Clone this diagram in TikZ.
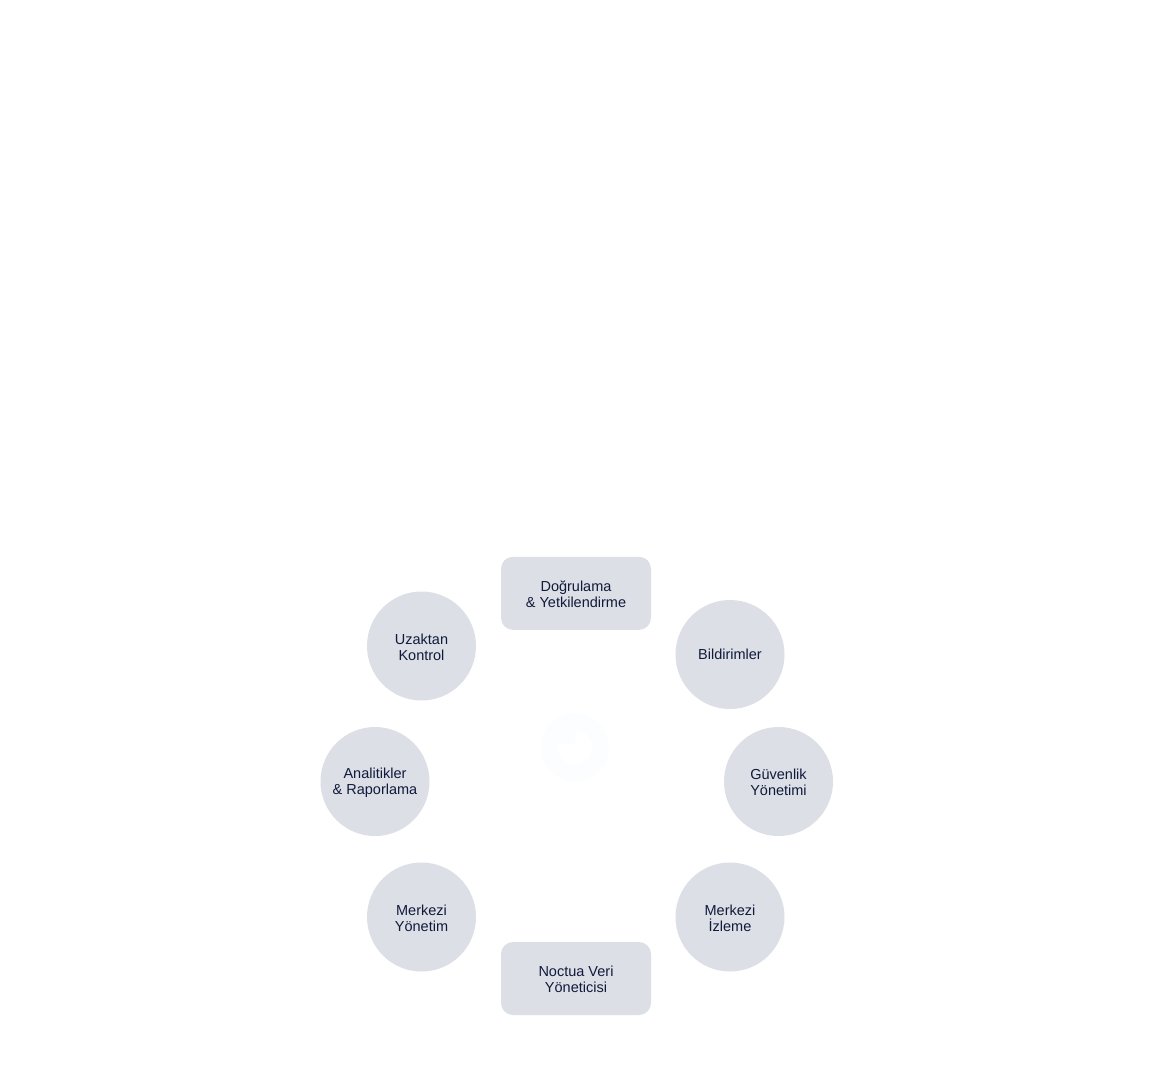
\documentclass[tikz,border=0pt]{standalone}
\usepackage{fontspec}
\setmainfont{Liberation Sans}
\definecolor{boxfill}{HTML}{DDDFE6}
\definecolor{inktext}{HTML}{101A3A}
\definecolor{faintring}{HTML}{FBFDFE}
\tikzset{
  lbl/.style={font=\fontsize{14.5}{16}\selectfont, text=inktext, align=center, inner sep=0pt},
  circbox/.style={circle, fill=boxfill, inner sep=0pt, minimum size=109pt},
  rectbox/.style={rectangle, rounded corners=12pt, fill=boxfill, inner sep=0pt, minimum width=150pt, minimum height=73pt},
  txt/.style={label={[lbl,yshift=-1pt]center:#1}}
}
\begin{document}
\begin{tikzpicture}[x=1pt,y=-1pt]
\useasboundingbox[fill=white] (0,0) rectangle (1152,1080);
\fill[faintring, even odd rule] (575,747.5) circle (34)
  (575,730) arc (-90:180:17.5) -- (557.5,743.5) -- (575,743.5) -- cycle;
\node[rectbox,txt={Doğrulama\\\& Yetkilendirme}] (auth) at (576,593.3) {};
\node[circbox,label={[lbl]center:Bildirimler}] (notif) at (730,654.5) {};
\node[circbox,txt={Güvenlik\\Yönetimi}] (sec) at (778.5,781.5) {};
\node[circbox,txt={Merkezi\\İzleme}] (mon) at (730,917) {};
\node[rectbox,txt={Noctua Veri\\Yöneticisi}] (noctua) at (576,978.5) {};
\node[circbox,txt={Merkezi\\Yönetim}] (mgmt) at (421.5,917) {};
\node[circbox,txt={Analitikler\\\& Raporlama}] (ana) at (375,781.5) {};
\node[circbox,txt={Uzaktan\\Kontrol}] (remote) at (421.5,646) {};
\end{tikzpicture}
\end{document}
